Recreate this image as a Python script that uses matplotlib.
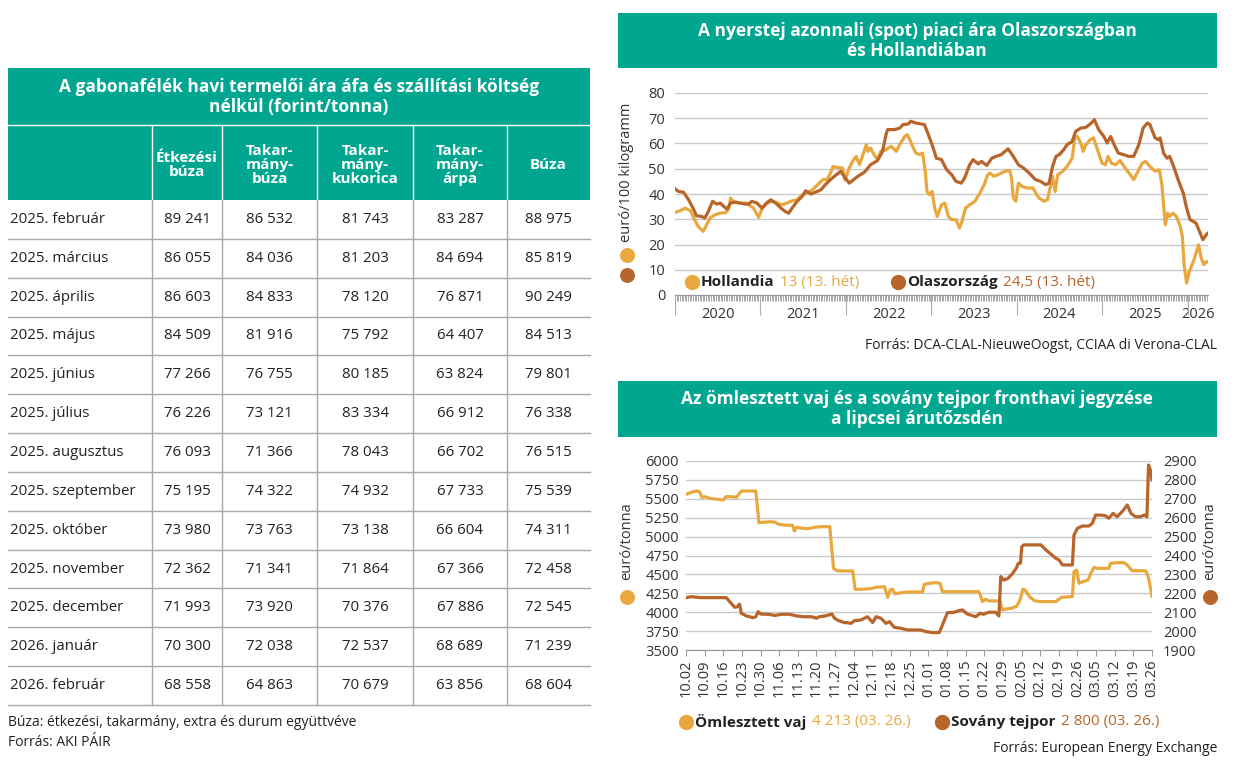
"""Gabona-táblázat és két tejpiaci grafikon egy képen (out.png)."""
import matplotlib
matplotlib.use("Agg")
import matplotlib.pyplot as plt
from matplotlib.patches import Rectangle
import numpy as np

W, H = 1238, 778
TEAL = "#00a68f"
LIGHT = "#e9a83e"
DARK = "#b8652b"
GRID = "#c9c9c9"
TXT = "#222222"
TICK = "#333333"

# --- táblázat ---------------------------------------------------------------
honapok = ["2025. február", "2025. március", "2025. április", "2025. május",
           "2025. június", "2025. július", "2025. augusztus", "2025. szeptember",
           "2025. október", "2025. november", "2025. december", "2026. január",
           "2026. február"]
fejlec = ["Étkezési\nbúza", "Takar-\nmány-\nbúza", "Takar-\nmány-\nkukorica",
          "Takar-\nmány-\nárpa", "Búza"]
etkezesi_buza = [89241, 86055, 86603, 84509, 77266, 76226, 76093, 75195,
                 73980, 72362, 71993, 70300, 68558]
takarmany_buza = [86532, 84036, 84833, 81916, 76755, 73121, 71366, 74322,
                  73763, 71341, 73920, 72038, 64863]
takarmany_kukorica = [81743, 81203, 78120, 75792, 80185, 83334, 78043, 74932,
                      73138, 71864, 70376, 72537, 70679]
takarmany_arpa = [83287, 84694, 76871, 64407, 63824, 66912, 66702, 67733,
                  66604, 67366, 67886, 68689, 63856]
buza = [88975, 85819, 90249, 84513, 79801, 76338, 76515, 75539, 74311, 72458,
        72545, 71239, 68604]

# --- nyerstej ára (euró/100 kg), tizedes év ------------------------------------
olasz_x = [2020.00, 2020.04, 2020.10, 2020.16, 2020.22, 2020.25, 2020.31, 2020.35,
           2020.39, 2020.44, 2020.49, 2020.53, 2020.57, 2020.61, 2020.65, 2020.71,
           2020.76, 2020.82, 2020.86, 2020.90, 2020.96, 2021.02, 2021.07, 2021.12,
           2021.18, 2021.24, 2021.29, 2021.33, 2021.37, 2021.43, 2021.49, 2021.53,
           2021.59, 2021.65, 2021.71, 2021.76, 2021.82, 2021.88, 2021.94, 2021.98,
           2022.04, 2022.14, 2022.22, 2022.29, 2022.37, 2022.43, 2022.47, 2022.49,
           2022.57, 2022.63, 2022.67, 2022.73, 2022.76, 2022.82, 2022.92, 2022.96,
           2023.01, 2023.06, 2023.12, 2023.18, 2023.24, 2023.29, 2023.35, 2023.39,
           2023.45, 2023.49, 2023.55, 2023.59, 2023.65, 2023.71, 2023.76, 2023.82,
           2023.90, 2023.96, 2024.02, 2024.08, 2024.14, 2024.22, 2024.28, 2024.34,
           2024.38, 2024.42, 2024.46, 2024.50, 2024.55, 2024.59, 2024.65, 2024.69,
           2024.75, 2024.81, 2024.86, 2024.91, 2024.96, 2025.02, 2025.06, 2025.10,
           2025.15, 2025.19, 2025.25, 2025.31, 2025.37, 2025.43, 2025.48, 2025.53,
           2025.56, 2025.62, 2025.66, 2025.68, 2025.72, 2025.76, 2025.79, 2025.83,
           2025.89, 2025.95, 2025.99, 2026.03, 2026.07, 2026.10, 2026.14, 2026.18,
           2026.22, 2026.24]
olasz_y = [42.1, 41.0, 40.7, 37.7, 33.8, 31.4, 31.1, 30.5,
           33.1, 37.1, 36.0, 36.4, 35.1, 34.0, 36.4, 36.8,
           36.4, 36.0, 36.0, 37.1, 36.4, 34.4, 36.4, 37.7,
           36.4, 34.4, 33.1, 32.4, 34.4, 37.1, 39.1, 41.3,
           40.0, 40.8, 41.7, 43.7, 45.7, 47.4, 49.0, 47.0,
           44.3, 47.0, 48.7, 51.6, 53.2, 56.9, 63.5, 65.5,
           65.5, 66.1, 67.5, 67.7, 68.8, 68.1, 67.5, 64.1,
           59.5, 54.2, 53.6, 49.6, 47.6, 45.0, 44.3, 46.3,
           51.6, 53.6, 51.9, 52.9, 51.3, 54.2, 54.9, 55.6,
           57.9, 54.9, 51.6, 50.3, 48.5, 45.7, 45.0, 43.7,
           44.3, 50.9, 54.9, 55.6, 57.5, 59.5, 60.8, 64.8,
           66.1, 66.4, 67.7, 69.4, 65.5, 62.8, 60.2, 62.8,
           58.9, 56.2, 55.6, 54.9, 54.9, 59.5, 66.1, 68.1,
           67.5, 62.2, 61.5, 62.2, 56.2, 54.2, 54.9, 51.6,
           45.7, 40.4, 34.4, 29.8, 29.1, 28.5, 25.2, 21.9,
           23.9, 24.5]

holland_x = [2020.00, 2020.06, 2020.12, 2020.18, 2020.22, 2020.27, 2020.33, 2020.37,
             2020.41, 2020.47, 2020.53, 2020.59, 2020.63, 2020.65, 2020.69, 2020.76,
             2020.84, 2020.92, 2020.98, 2021.02, 2021.08, 2021.14, 2021.20, 2021.25,
             2021.31, 2021.37, 2021.43, 2021.49, 2021.55, 2021.61, 2021.67, 2021.73,
             2021.78, 2021.82, 2021.85, 2021.90, 2021.96, 2021.99, 2022.04, 2022.08,
             2022.12, 2022.16, 2022.20, 2022.24, 2022.26, 2022.29, 2022.33, 2022.37,
             2022.41, 2022.47, 2022.53, 2022.59, 2022.63, 2022.69, 2022.72, 2022.75,
             2022.78, 2022.82, 2022.86, 2022.90, 2022.93, 2022.95, 2022.98, 2023.01,
             2023.04, 2023.07, 2023.12, 2023.16, 2023.20, 2023.24, 2023.29, 2023.33,
             2023.36, 2023.40, 2023.45, 2023.51, 2023.57, 2023.62, 2023.66, 2023.69,
             2023.73, 2023.78, 2023.82, 2023.88, 2023.92, 2023.94, 2023.96, 2023.99,
             2024.02, 2024.06, 2024.12, 2024.19, 2024.26, 2024.32, 2024.36, 2024.40,
             2024.42, 2024.45, 2024.48, 2024.53, 2024.59, 2024.65, 2024.68, 2024.71,
             2024.75, 2024.78, 2024.81, 2024.86, 2024.90, 2024.94, 2025.00, 2025.04,
             2025.07, 2025.11, 2025.16, 2025.21, 2025.27, 2025.33, 2025.37, 2025.43,
             2025.47, 2025.51, 2025.56, 2025.62, 2025.67, 2025.70, 2025.72, 2025.74,
             2025.77, 2025.79, 2025.83, 2025.87, 2025.91, 2025.94, 2025.96, 2025.99,
             2026.02, 2026.07, 2026.10, 2026.13, 2026.16, 2026.19, 2026.22, 2026.24]
holland_y = [32.7, 33.4, 34.4, 33.4, 30.5, 27.2, 25.2, 27.8,
             30.5, 31.8, 32.5, 32.5, 34.2, 38.4, 36.8, 36.4,
             36.4, 34.4, 30.7, 34.4, 36.4, 37.1, 36.4, 35.7,
             36.4, 37.3, 37.7, 39.7, 40.4, 41.7, 43.7, 45.7,
             45.7, 48.3, 50.9, 50.5, 50.3, 45.5, 50.3, 52.9,
             54.9, 51.6, 55.6, 59.5, 56.9, 58.2, 55.6, 53.6,
             56.9, 57.5, 58.9, 56.9, 59.5, 62.8, 63.5, 61.5,
             58.9, 56.2, 55.6, 56.2, 49.0, 41.0, 39.7, 41.0,
             34.4, 31.1, 35.7, 36.4, 31.1, 29.8, 29.8, 26.5,
             29.1, 34.4, 35.7, 37.1, 40.4, 43.7, 47.6, 48.3,
             47.0, 47.6, 48.3, 49.2, 49.2, 46.3, 38.4, 37.1,
             44.3, 43.0, 42.4, 42.4, 38.4, 37.1, 37.7, 43.7,
             47.0, 41.0, 47.6, 48.7, 50.9, 54.2, 62.2, 62.8,
             60.2, 56.9, 59.5, 61.5, 62.2, 58.2, 52.2, 51.6,
             54.9, 52.2, 51.6, 53.2, 50.3, 47.6, 45.7, 49.6,
             52.2, 52.9, 50.9, 49.0, 49.6, 43.7, 35.7, 27.8,
             32.4, 31.1, 32.4, 31.1, 27.8, 23.2, 12.0, 4.7,
             9.3, 13.3, 16.6, 19.9, 14.7, 12.0, 13.3, 13.0]
evek = ["2020", "2021", "2022", "2023", "2024", "2025", "2026"]

# --- lipcsei jegyzések, napok 2025.10.02-tól -----------------------------------------
vaj_nap = [0, 2, 4, 5, 6, 7, 9, 12, 14, 15, 17, 19, 20, 21, 24, 26.2, 27.4, 29,
           31.5, 33.4, 34.6, 36.5, 39, 40, 40.7, 41.5, 44, 46, 48, 51, 54, 55.4,
           56.7, 59, 62.6, 63.5, 65.7, 69.5, 71.4, 74.5, 75.1, 75.7, 76.7, 77.6,
           78.5, 80.7, 83.2, 86.3, 88.8, 89.5, 91.3, 93.8, 95.4, 96.3, 99.4, 103.2,
           107.6, 110.0, 110.7, 111.3, 112.5, 113.8, 117.9, 118.8, 119.6, 122.1,
           124.0, 125.2, 125.8, 126.5, 127.3, 129.0, 130.8, 132.7, 138.9, 141.0,
           145.1, 145.7, 146.7, 147.6, 148.9, 151.0, 152.0, 153.2, 154.5, 158.8,
           159.4, 161.3, 164.4, 165.7, 167.5, 172.5, 173.4, 174.1, 175]
vaj_ar = [5559, 5586, 5603, 5594, 5519, 5528, 5506, 5493, 5484, 5528, 5528, 5519,
          5572, 5603, 5603, 5603, 5184, 5189, 5197, 5189, 5167, 5153, 5149, 5149,
          5074, 5123, 5109, 5105, 5123, 5131, 5131, 4580, 4549, 4545, 4545, 4303,
          4303, 4312, 4330, 4338, 4272, 4197, 4294, 4303, 4241, 4259, 4267, 4267,
          4267, 4369, 4382, 4391, 4382, 4272, 4272, 4272, 4272, 4272, 4206, 4140,
          4171, 4149, 4149, 4030, 4039, 4052, 4074, 4140, 4206, 4303, 4294, 4206,
          4153, 4140, 4140, 4197, 4206, 4536, 4558, 4382, 4404, 4426, 4514, 4593,
          4580, 4580, 4646, 4655, 4655, 4624, 4549, 4549, 4492, 4382, 4213]

tejpor_nap = [0, 1.9, 5.7, 15.1, 16.4, 18.3, 19.3, 20.1, 20.8, 22.7, 25.2, 26.2,
              27.1, 28.1, 30.8, 33.4, 35.9, 39.0, 41.5, 44.1, 47.2, 49.1, 50.0,
              52.2, 54.8, 55.8, 57.3, 59.5, 60.1, 62.0, 63.2, 65.7, 68.2, 70.1,
              71.4, 73.2, 75.1, 76.4, 78.2, 80.7, 83.2, 88.2, 90.1, 92.6, 95.1,
              96.3, 98.2, 100.1, 102.6, 103.8, 105.7, 108.8, 110.4, 111.7, 113.8,
              116.3, 117.5, 118.2, 119.4, 120.9, 122.7, 124.0, 124.8, 125.6, 126.1,
              126.8, 133.3, 135.2, 137.0, 138.9, 140.1, 141.4, 145.1, 145.7, 147.0,
              148.9, 151.3, 152.6, 153.8, 155.7, 157.6, 158.8, 160.4, 161.9, 163.8,
              165.7, 167.1, 168.8, 170.6, 172.1, 173.1, 173.7, 174.4, 175]
tejpor_ar = [2177, 2182, 2177, 2177, 2156, 2126, 2129, 2143, 2094, 2080, 2071, 2076,
             2103, 2090, 2089, 2083, 2089, 2089, 2080, 2076, 2076, 2068, 2076,
             2080, 2090, 2068, 2055, 2045, 2045, 2041, 2055, 2059, 2076, 2045,
             2076, 2068, 2041, 2050, 2020, 2015, 2006, 2006, 1997, 1992, 1992,
             2032, 2098, 2098, 2108, 2112, 2090, 2076, 2094, 2089, 2100,
             2100, 2080, 2288, 2270, 2279, 2306, 2332, 2359, 2359, 2447,
             2456, 2456, 2429, 2408, 2385, 2376, 2350, 2350, 2508, 2544,
             2556, 2556, 2570, 2614, 2614, 2610, 2597, 2623, 2605, 2632,
             2667, 2623, 2605, 2605, 2614, 2605, 2879, 2852, 2800]
het_cimkek = ["10.02", "10.09", "10.16", "10.23", "10.30", "11.06", "11.13",
              "11.20", "11.27", "12.04", "12.11", "12.18", "12.25", "01.01",
              "01.08", "01.15", "01.22", "01.29", "02.05", "02.12", "02.19",
              "02.26", "03.05", "03.12", "03.19", "03.26"]


def ezres(v):
    return f"{v:,}".replace(",", " ")


def legend_row(ax, y, x0, items, fs=11):
    """Színes pötty + félkövér név + színes érték, egymás után."""
    x = x0
    for name, value, color, gap in items:
        x += gap
        ax.scatter([x], [y], s=100, color=color, zorder=5, clip_on=False)
        t = ax.text(x + 9, y, name, fontsize=fs, fontweight="bold", color=TXT,
                    va="center", ha="left", zorder=6)
        ax.annotate(value, xy=(1, 0.5), xycoords=t, xytext=(4, 0),
                    textcoords="offset points", va="center", ha="left",
                    fontsize=fs, color=color, zorder=6)


plt.rcParams["font.family"] = ["Open Sans", "DejaVu Sans"]
fig = plt.figure(figsize=(W / 100, H / 100), dpi=100)

# pixel-koordinátás réteg a táblázatnak és a feliratoknak
ov = fig.add_axes([0, 0, 1, 1])
ov.set_xlim(0, W)
ov.set_ylim(H, 0)
ov.axis("off")

tl, tr = 8, 590
col_edges = [8, 152, 222, 317, 413, 507, 590]
row_top, row_bot = 200, 705
row_h = (row_bot - row_top) / len(honapok)

ov.add_patch(Rectangle((tl, 68), tr - tl, row_top - 68, color=TEAL, lw=0))
ov.text((tl + tr) / 2, 97,
        "A gabonafélék havi termelői ára áfa és szállítási költség\nnélkül (forint/tonna)",
        ha="center", va="center", color="white", fontsize=12.5,
        fontweight="bold", linespacing=1.15)
ov.plot([tl, tr], [125, 125], color="white", lw=1)
for x in col_edges[1:-1]:
    ov.plot([x, x], [125, row_top], color="white", lw=1)
    ov.plot([x, x], [row_top, row_bot], color="#a8a8a8", lw=1)
for i in range(1, len(honapok) + 1):
    yy = row_top + i * row_h
    ov.plot([tl, tr], [yy, yy], color="#a8a8a8", lw=1)

col_mid = [(a + b) / 2 for a, b in zip(col_edges[1:-1], col_edges[2:])]
for cx, head in zip(col_mid, fejlec):
    ov.text(cx, 165, head, ha="center", va="center", color="white",
            fontsize=11, fontweight="bold", linespacing=1.0)

oszlopok = [etkezesi_buza, takarmany_buza, takarmany_kukorica, takarmany_arpa, buza]
for i, honap in enumerate(honapok):
    cy = row_top + (i + 0.5) * row_h
    ov.text(tl + 2, cy, honap, ha="left", va="center", fontsize=10.8, color=TXT)
    for cx, col in zip(col_mid, oszlopok):
        ov.text(cx, cy, ezres(col[i]), ha="center", va="center",
                fontsize=10.8, color=TXT)

ov.text(tl, 723, "Búza: étkezési, takarmány, extra és durum együttvéve",
        ha="left", va="center", fontsize=10, color=TXT)
ov.text(tl, 743, "Forrás: AKI PÁIR", ha="left", va="center", fontsize=10, color=TXT)

# --- 1. grafikon: nyerstej ---------------------------------------------------------
ov.add_patch(Rectangle((618, 13), 599, 55, color=TEAL, lw=0))
ov.text(917, 41, "A nyerstej azonnali (spot) piaci ára Olaszországban\nés Hollandiában",
        ha="center", va="center", color="white", fontsize=12.5,
        fontweight="bold", linespacing=1.15)

ax1 = fig.add_axes([675 / W, 1 - 295 / H, (1208 - 675) / W, (295 - 93) / H])
ax1.set_facecolor("none")
ax1.plot(holland_x, holland_y, color=LIGHT, lw=2.3, solid_joinstyle="round", zorder=3)
ax1.plot(olasz_x, olasz_y, color=DARK, lw=2.3, solid_joinstyle="round", zorder=4)
ax1.set_xlim(2020, 2026.24)
ax1.set_ylim(0, 80)
ax1.set_yticks(np.arange(0, 81, 10))
ax1.grid(axis="y", color=GRID, lw=1)
ax1.set_axisbelow(True)
for s in ("top", "right", "left"):
    ax1.spines[s].set_visible(False)
ax1.spines["bottom"].set_color("#9a9a9a")
ax1.tick_params(axis="y", length=0, labelsize=10.5, labelcolor=TICK, pad=7)
ax1.set_xticks([2020.5, 2021.5, 2022.5, 2023.5, 2024.5, 2025.5, 2026.12], evek)
ax1.tick_params(axis="x", which="major", length=0, labelsize=10.5,
                labelcolor=TICK, pad=9)
ax1.set_xticks(np.arange(2020, 2026.24, 7 / 365.25), minor=True)
ax1.tick_params(axis="x", which="minor", length=4, width=0.6, color="#9a9a9a")
ax1.vlines(np.arange(2020, 2027), 0, -0.1, transform=ax1.get_xaxis_transform(),
           color="#b0b0b0", lw=0.8, clip_on=False)

ov.text(627, 172, "euró/100 kilogramm", rotation=90, ha="center", va="center",
        fontsize=10.5, color=TICK)
ov.scatter([627], [255], s=95, color=LIGHT, clip_on=False)
ov.scatter([627], [275], s=95, color=DARK, clip_on=False)
# a jelmagyarázat a grafikon belsejében van, ezért külön, felső rétegre kerül
leg1 = fig.add_axes([0, 0, 1, 1], zorder=10)
leg1.set_xlim(0, W)
leg1.set_ylim(H, 0)
leg1.axis("off")
legend_row(leg1, 282, 683, [("Hollandia", "13 (13. hét)", LIGHT, 9),
                            ("Olaszország", "24,5 (13. hét)", DARK, 206)])
ov.text(1217, 345, "Forrás: DCA-CLAL-NieuweOogst, CCIAA di Verona-CLAL",
        ha="right", va="center", fontsize=10, color=TXT)

# --- 2. grafikon: vaj és sovány tejpor ----------------------------------------------
ov.add_patch(Rectangle((618, 381), 599, 56, color=TEAL, lw=0))
ov.text(917, 409, "Az ömlesztett vaj és a sovány tejpor fronthavi jegyzése\na lipcsei árutőzsdén",
        ha="center", va="center", color="white", fontsize=12.5,
        fontweight="bold", linespacing=1.15)

ax2 = fig.add_axes([686 / W, 1 - 650 / H, (1152 - 686) / W, (650 - 461) / H])
ax2.set_facecolor("none")
ax2.plot(vaj_nap, vaj_ar, color=LIGHT, lw=2.3, solid_joinstyle="round", zorder=3)
ax2.set_xlim(0, 175)
ax2.set_ylim(3500, 6000)
ax2.set_yticks(np.arange(3500, 6001, 250))
ax2.grid(axis="y", color=GRID, lw=1)
ax2.set_axisbelow(True)
ax2.set_xticks(np.arange(0, 176, 7), het_cimkek, rotation=90)
ax2.tick_params(axis="x", length=4, color="#9a9a9a", labelsize=10.5,
                labelcolor=TICK, pad=3)
ax2.tick_params(axis="y", length=0, labelsize=10.5, labelcolor=TICK, pad=5)

ax2r = ax2.twinx()
ax2r.plot(tejpor_nap, tejpor_ar, color=DARK, lw=2.3, solid_joinstyle="round", zorder=4)
ax2r.set_ylim(1900, 2900)
ax2r.set_yticks(np.arange(1900, 2901, 100))
ax2r.tick_params(axis="y", length=0, labelsize=10.5, labelcolor=TICK, pad=8)
for a in (ax2, ax2r):
    for s in ("top", "right", "left"):
        a.spines[s].set_visible(False)
    a.spines["bottom"].set_color("#9a9a9a")

ov.text(627, 541, "euró/tonna", rotation=90, ha="center", va="center",
        fontsize=10.5, color=TICK)
ov.scatter([627], [597], s=95, color=LIGHT, clip_on=False)
ov.text(1210, 541, "euró/tonna", rotation=90, ha="center", va="center",
        fontsize=10.5, color=TICK)
ov.scatter([1210], [597], s=95, color=DARK, clip_on=False)
legend_row(ov, 722, 677, [("Ömlesztett vaj", "4 213 (03. 26.)", LIGHT, 9),
                          ("Sovány tejpor", "2 800 (03. 26.)", DARK, 256)])
ov.text(1217, 748, "Forrás: European Energy Exchange", ha="right", va="center",
        fontsize=10, color=TXT)

fig.savefig("out.png", dpi=100)
